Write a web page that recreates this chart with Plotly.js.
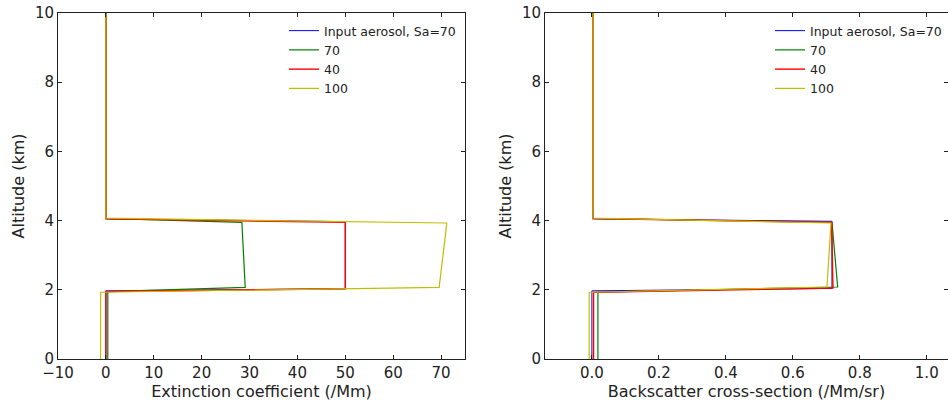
<!DOCTYPE html>
<html>
<head>
<meta charset="utf-8">
<script src="https://cdn.plot.ly/plotly-3.0.1.min.js"></script>
<style>html,body{margin:0;padding:0;background:#fff;}#chart{width:948px;height:402px;}</style>
</head>
<body>
<div id="chart"></div>
<script>
// Series names and colours
const seriesNames = ["Input aerosol, Sa=70", "70", "40", "100"];
const seriesColors = ["#0000ff", "#008000", "#ff0000", "#bfbf00"];

// Extinction coefficient (/Mm) profiles: altitude (km) vs value
const extInputAlt = [0, 1.97, 2.03, 3.97, 4.05, 10];
const extInputVal = [0, 0, 50, 50, 0, 0];
const ext70Alt = [0, 1.95, 2.07, 3.95, 4.06, 10];
const ext70Val = [0.4, 0.4, 29.1, 28.4, 0, 0];
const ext40Alt = [0, 1.95, 2.03, 3.95, 4.05, 10];
const ext40Val = [0, 0, 50, 50, 0, 0];
const ext100Alt = [0, 1.93, 2.07, 3.93, 4.07, 10];
const ext100Val = [-1.1, -1.1, 69.6, 71.2, 0, 0];

// Backscatter cross-section (/Mm/sr) profiles
const bscInputAlt = [0, 1.97, 2.04, 3.98, 4.05, 10];
const bscInputVal = [0, 0, 0.717, 0.717, 0.002, 0.002];
const bsc70Alt = [0, 1.93, 2.08, 3.95, 4.06, 10];
const bsc70Val = [0.018, 0.018, 0.734, 0.717, 0.003, 0.003];
const bsc40Alt = [0, 1.93, 2.05, 3.95, 4.06, 10];
const bsc40Val = [0.005, 0.005, 0.72, 0.716, 0.003, 0.003];
const bsc100Alt = [0, 1.93, 2.08, 3.93, 4.07, 10];
const bsc100Val = [-0.008, -0.008, 0.702, 0.714, 0.003, 0.003];

const extSets = [[extInputVal, extInputAlt], [ext70Val, ext70Alt], [ext40Val, ext40Alt], [ext100Val, ext100Alt]];
const bscSets = [[bscInputVal, bscInputAlt], [bsc70Val, bsc70Alt], [bsc40Val, bsc40Alt], [bsc100Val, bsc100Alt]];
const lineWidths = [1.0, 1.2, 1.4, 1.2];

const traces = [];
extSets.forEach((s, i) => traces.push({
  x: s[0], y: s[1], type: 'scatter', mode: 'lines', name: seriesNames[i],
  line: {color: seriesColors[i], width: lineWidths[i]}, xaxis: 'x', yaxis: 'y', legend: 'legend'
}));
bscSets.forEach((s, i) => traces.push({
  x: s[0], y: s[1], type: 'scatter', mode: 'lines', name: seriesNames[i],
  line: {color: seriesColors[i], width: lineWidths[i]}, xaxis: 'x2', yaxis: 'y2', legend: 'legend2'
}));

const W = 948, H = 402;
const tickFont = {family: 'DejaVu Sans, sans-serif', size: 15, color: '#222'};
const titleFont = {family: 'DejaVu Sans, sans-serif', size: 16, color: '#222'};
const legendFont = {family: 'DejaVu Sans, sans-serif', size: 12.5, color: '#222'};
const axisCommon = {
  showline: true, linecolor: '#222', linewidth: 1, mirror: 'allticks',
  ticks: 'inside', ticklen: 4, tickcolor: '#222', tickwidth: 1,
  showgrid: false, zeroline: false, tickfont: tickFont
};

const yTop = 1 - 13 / H, yBot = 1 - 359 / H;

const layout = {
  width: W, height: H,
  margin: {l: 0, r: 0, t: 0, b: 0},
  paper_bgcolor: '#fff', plot_bgcolor: '#fff',
  font: tickFont,
  xaxis: Object.assign({}, axisCommon, {
    domain: [58 / W, 465 / W], range: [-10, 75], dtick: 10, tick0: 0,
    title: {text: 'Extinction coefficient (/Mm)', font: titleFont, standoff: 0}
  }),
  yaxis: Object.assign({}, axisCommon, {
    domain: [yBot, yTop], range: [0, 10], dtick: 2, tick0: 0,
    title: {text: 'Altitude (km)', font: titleFont, standoff: 6}
  }),
  xaxis2: Object.assign({}, axisCommon, {
    domain: [545 / W, 1], range: [-0.14, 1.0635], dtick: 0.2, tick0: 0, tickformat: '.1f',
    anchor: 'y2',
    title: {text: 'Backscatter cross-section (/Mm/sr)', font: titleFont, standoff: 0}
  }),
  yaxis2: Object.assign({}, axisCommon, {
    domain: [yBot, yTop], range: [0, 10], dtick: 2, tick0: 0, anchor: 'x2',
    title: {text: 'Altitude (km)', font: titleFont, standoff: 6}
  }),
  legend: {
    x: 284 / W, y: 1 - 16 / H, xanchor: 'left', yanchor: 'top',
    bgcolor: 'rgba(0,0,0,0)', borderwidth: 0, font: legendFont
  },
  legend2: {
    x: 770 / W, y: 1 - 16 / H, xanchor: 'left', yanchor: 'top',
    bgcolor: 'rgba(0,0,0,0)', borderwidth: 0, font: legendFont
  },
  showlegend: true
};

Plotly.newPlot('chart', traces, layout, {displayModeBar: false, staticPlot: true});
</script>
</body>
</html>
